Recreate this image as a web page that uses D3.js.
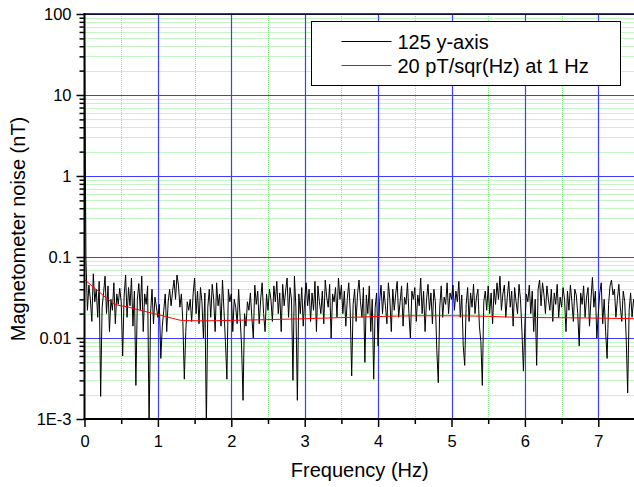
<!DOCTYPE html>
<html>
<head>
<meta charset="utf-8">
<script src="https://cdn.jsdelivr.net/npm/d3@7"></script>
<style>
  body { margin: 0; background: #fff; }
  svg { font-family: Arial, "Liberation Sans", sans-serif; }
</style>
</head>
<body>
<svg id="graph" width="634" height="487"></svg>
<script>
/*******************************************************************************************/
// Data (noise amplitude in pT, one value every 0.02 Hz from 0 Hz)

var freqStep = 0.02;
var noise_pT = [
  55000, 90, 22, 45, 30, 16, 62, 28, 40, 18, 50, 1.9, 24, 36, 58, 20, 44, 12, 30, 22, 48, 15, 35, 26, 41,
  28, 6, 33, 60, 18, 42, 25, 55, 14, 38, 2.6, 30, 47, 22, 58, 12, 35, 26, 44, 0.8, 20, 40, 15, 32, 24,
  18, 26, 5.6, 14, 22, 35, 12, 28, 40, 25, 38, 52, 30, 60, 45, 24, 35, 16, 3.1, 12, 28, 22, 30, 16, 35,
  55, 20, 38, 15, 42, 28, 10, 36, 0.8, 24, 40, 18, 46, 30, 12, 48, 25, 35, 14, 52, 22, 9, 3.1, 40, 28,
  35, 12, 30, 24, 15, 40, 18, 8, 1.7, 20, 14, 28, 22, 36, 18, 10, 45, 26, 38, 15, 30, 48, 20, 12, 35,
  22, 40, 30, 16, 44, 28, 50, 20, 36, 12, 46, 25, 38, 55, 18, 42, 30, 3.0, 58, 24, 1.7, 35, 20, 42, 14,
  30, 48, 25, 40, 16, 36, 22, 50, 12, 44, 28, 20, 38, 15, 52, 32, 24, 46, 10, 35, 28, 42, 18, 55, 30,
  45, 20, 38, 14, 30, 48, 22, 3.4, 26, 40, 16, 35, 52, 28, 18, 42, 5, 34, 20, 44, 12, 30, 3.1, 24, 36,
  8, 28, 45, 20, 38, 25, 15, 48, 30, 12, 40, 22, 35, 50, 18, 28, 44, 14, 32, 26, 48, 20, 10, 38, 30,
  42, 16, 34, 25, 55, 20, 38, 12, 30, 46, 22, 36, 15, 40, 28, 7, 2.8, 24, 44, 18, 32, 26, 48, 20, 36,
  30, 45, 22, 38, 28, 50, 18, 34, 8, 4.6, 26, 42, 16, 36, 24, 46, 20, 32, 40, 14, 9, 2.6, 28, 38, 22,
  44, 20, 36, 15, 40, 26, 48, 30, 58, 22, 35, 45, 18, 32, 50, 24, 38, 14, 42, 28, 20, 46, 30, 12, 3.9,
  15, 35, 28, 45, 20, 38, 12, 30, 4.6, 40, 52, 25, 48, 34, 20, 44, 30, 22, 40, 16, 36, 26, 46, 18, 32,
  24, 42, 30, 12, 38, 22, 45, 28, 16, 40, 34, 20, 8, 36, 26, 44, 18, 32, 42, 14, 30, 56, 24, 38, 10,
  20, 36, 48, 15, 30, 12, 5.6, 26, 44, 52, 34, 40, 18, 30, 46, 24, 16, 38, 28, 10, 2.1, 22, 36, 18, 30,
  21
];

// smoothed reference level (pT)
var fitFreq = [0, 0.1, 0.2, 0.3, 0.4, 0.6, 0.8, 1.0, 1.2, 1.35, 1.6, 2.0, 3.0, 4.0, 4.5, 5.0, 5.5, 6.0, 6.5, 7.0, 7.5];
var fit_pT  = [53, 44, 37, 31, 26.5, 24, 21.5, 19.5, 17.5, 16.4, 16.3, 16.5, 17.3, 18.4, 18.8, 18.8, 18.5, 17.9, 17.8, 17.6, 17.3];

var yTicks = [100, 10, 1, 0.1, 0.01, 0.001];
var yTickLabels = ['100', '10', '1', '0.1', '0.01', '1E-3'];
var xTicks = [0, 1, 2, 3, 4, 5, 6, 7];
var legendLabels = ['125 y-axis', '20 pT/sqr(Hz) at 1 Hz'];

/*******************************************************************************************/
// Graph

var pLeft = 84.5, pRight = 635, pTop = 14, pBottom = 419;

var svg = d3.select('#graph');
var xScale = d3.scaleLinear().domain([0, 7.5]).range([pLeft, pRight]);
var yScale = d3.scaleLog().domain([0.001, 100]).range([pBottom, pTop]);

var noise = noise_pT.map(function(v, i){ return { f: i * freqStep, v: v / 1000 }; });
var fit = fitFreq.map(function(f, i){ return { f: f, v: fit_pT[i] / 1000 }; });

svg.append('clipPath').attr('id', 'clip')
   .append('rect').attr('x', pLeft).attr('y', pTop).attr('width', pRight - pLeft).attr('height', pBottom - pTop);

var grid = svg.append('g').attr('clip-path', 'url(#clip)');

// minor grid
var minorY = [];
[0.001, 0.01, 0.1, 1, 10].forEach(function(d){ for (var k = 2; k <= 9; k++) minorY.push(d * k); });
grid.selectAll('.minorY').data(minorY).enter().append('line')
    .attr('x1', pLeft).attr('x2', pRight)
    .attr('y1', function(d){ return Math.round(yScale(d)) + 0.5; })
    .attr('y2', function(d){ return Math.round(yScale(d)) + 0.5; })
    .style('stroke', '#86ec86').style('stroke-dasharray', '1,1').style('stroke-width', 1);

var minorX = d3.range(0.5, 7.6, 1);
grid.selectAll('.minorX').data(minorX).enter().append('line')
    .attr('y1', pTop).attr('y2', pBottom)
    .attr('x1', function(d){ return Math.round(xScale(d)) + 0.5; })
    .attr('x2', function(d){ return Math.round(xScale(d)) + 0.5; })
    .style('stroke', '#86ec86').style('stroke-dasharray', '1,1').style('stroke-width', 1);

// major grid
grid.selectAll('.majorY').data(yTicks).enter().append('line')
    .attr('x1', pLeft).attr('x2', pRight)
    .attr('y1', function(d){ return Math.round(yScale(d)) + 0.5; })
    .attr('y2', function(d){ return Math.round(yScale(d)) + 0.5; })
    .style('stroke', '#3d3dff').style('stroke-width', 1.2);

grid.selectAll('.majorX').data(xTicks.slice(1)).enter().append('line')
    .attr('y1', pTop).attr('y2', pBottom)
    .attr('x1', function(d){ return Math.round(xScale(d)) + 0.5; })
    .attr('x2', function(d){ return Math.round(xScale(d)) + 0.5; })
    .style('stroke', '#3d3dff').style('stroke-width', 1.2);

// series
var plot = svg.append('g').attr('clip-path', 'url(#clip)');
var lineGen = d3.line().x(function(d){ return xScale(d.f); }).y(function(d){ return yScale(Math.max(d.v, 0.0008)); });

plot.append('path').attr('d', lineGen(noise))
    .style('fill', 'none').style('stroke', '#000').style('stroke-width', 1);

plot.append('path').attr('d', lineGen.curve(d3.curveMonotoneX)(fit))
    .style('fill', 'none').style('stroke', '#ff0000').style('stroke-width', 1);

// axes
var yAxis = d3.axisLeft(yScale).tickValues(yTicks).tickFormat(function(d, i){ return yTickLabels[i]; })
              .tickSize(8).tickPadding(5);
svg.append('g').attr('transform', 'translate(' + pLeft + ',0)').call(yAxis);

var yMinor = d3.axisLeft(yScale).tickValues(minorY).tickFormat('').tickSize(5);
svg.append('g').attr('transform', 'translate(' + pLeft + ',0)').call(yMinor);

var xAxis = d3.axisBottom(xScale).tickValues(xTicks).tickFormat(d3.format('d')).tickSize(8).tickPadding(8);
svg.append('g').attr('transform', 'translate(0,' + pBottom + ')').call(xAxis);

var xMinor = d3.axisBottom(xScale).tickValues(minorX).tickFormat('').tickSize(5);
svg.append('g').attr('transform', 'translate(0,' + pBottom + ')').call(xMinor);

svg.selectAll('.domain').remove();
svg.selectAll('.tick line').style('stroke', '#000').style('stroke-width', 1.5);
svg.selectAll('.tick text').style('font-size', '16.5px').style('fill', '#000')
   .style('font-family', 'Arial, "Liberation Sans", sans-serif');

svg.append('line').attr('x1', pLeft).attr('x2', pLeft).attr('y1', pTop - 1).attr('y2', pBottom + 1)
   .style('stroke', '#000').style('stroke-width', 2);
svg.append('line').attr('x1', pLeft - 1).attr('x2', pRight).attr('y1', pBottom).attr('y2', pBottom)
   .style('stroke', '#000').style('stroke-width', 2);
svg.append('line').attr('x1', pLeft - 1).attr('x2', pRight).attr('y1', pTop).attr('y2', pTop)
   .style('stroke', '#000').style('stroke-width', 1.5);

// axis titles
svg.append('text').attr('x', (pLeft + pRight) / 2).attr('y', 477)
   .style('text-anchor', 'middle').style('font-size', '20px').text('Frequency (Hz)');
svg.append('text').attr('transform', 'translate(25,229) rotate(-90)')
   .style('text-anchor', 'middle').style('font-size', '20px').text('Magnetometer noise (nT)');

/*******************************************************************************************/
// Legend

var legend = svg.append('g').attr('transform', 'translate(311.5,21.5)');
legend.append('rect').attr('width', 309).attr('height', 64)
      .style('fill', '#fff').style('stroke', '#000').style('stroke-width', 1);

var legendColors = ['#000', '#ff0000'];
legendLabels.forEach(function(label, i){
  var y = 20 + i * 24;
  legend.append('line').attr('x1', 30).attr('x2', 80).attr('y1', y).attr('y2', y)
        .style('stroke', legendColors[i]).style('stroke-width', 1);
  legend.append('text').attr('x', 86).attr('y', y + 7).style('font-size', '20px').text(label);
});
</script>
</body>
</html>
